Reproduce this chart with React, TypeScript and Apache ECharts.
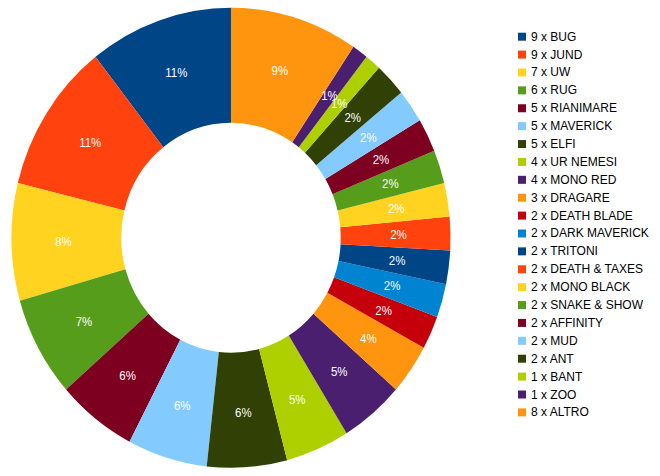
import React, { useEffect, useRef } from "react";
import * as echarts from "echarts";

const names = [
  "9 x BUG", "9 x JUND", "7 x UW", "6 x RUG", "5 x RIANIMARE", "5 x MAVERICK",
  "5 x ELFI", "4 x UR NEMESI", "4 x MONO RED", "3 x DRAGARE", "2 x DEATH BLADE",
  "2 x DARK MAVERICK", "2 x TRITONI", "2 x DEATH & TAXES", "2 x MONO BLACK",
  "2 x SNAKE & SHOW", "2 x AFFINITY", "2 x MUD", "2 x ANT", "1 x BANT", "1 x ZOO", "8 x ALTRO",
];
const values = [9, 9, 7, 6, 5, 5, 5, 4, 4, 3, 2, 2, 2, 2, 2, 2, 2, 2, 2, 1, 1, 8];
const palette = [
  "#004586", "#ff420e", "#ffd320", "#579d1c", "#7e0021", "#83caff",
  "#314004", "#aecf00", "#4b1f6f", "#ff950e", "#c5000b", "#0084d1",
];

const pieData = () => names.map((n, i) => ({ name: n, value: values[i] }));

export default function App() {
  const pieRef = useRef<HTMLDivElement>(null);
  const legRef = useRef<HTMLDivElement>(null);
  useEffect(() => {
    const pie = echarts.init(pieRef.current!, null, { renderer: "svg" });
    pie.setOption({
      animation: false,
      color: palette,
      series: [
        {
          type: "pie",
          center: [231, 237.8],
          radius: [115, 230],
          startAngle: 90,
          clockwise: false,
          avoidLabelOverlap: false,
          itemStyle: { borderWidth: 0 },
          labelLayout: { hideOverlap: false },
          label: {
            show: true,
            position: "inside",
            fontFamily: "Liberation Sans",
            fontSize: 12,
            color: "#fff",
            textShadowColor: "#000",
            textShadowOffsetX: 1,
            textShadowOffsetY: 1,
            textShadowBlur: 0,
            formatter: (p: any) => Math.round(p.percent) + "%",
          },
          labelLine: { show: false },
          emphasis: { disabled: true },
          data: pieData(),
        },
      ],
    });
    const leg = echarts.init(legRef.current!, null, { renderer: "svg" });
    leg.setOption({
      animation: false,
      color: palette,
      legend: {
        orient: "vertical",
        left: 518,
        top: 30.7,
        padding: 0,
        itemWidth: 8,
        itemHeight: 8,
        itemGap: 5.89,
        icon: "rect",
        selectedMode: false,
        textStyle: {
          fontFamily: "Liberation Sans",
          fontSize: 12,
          lineHeight: 12,
          color: "#000",
        },
        data: names,
      },
      series: [
        {
          type: "pie",
          center: [-100, -100],
          radius: [0, 0],
          label: { show: false },
          labelLine: { show: false },
          silent: true,
          data: pieData(),
        },
      ],
    });
    return () => {
      pie.dispose();
      leg.dispose();
    };
  }, []);
  return (
    <div style={{ position: "absolute", left: 0, top: 0, width: 660, height: 476 }}>
      <div
        ref={pieRef}
        style={{
          width: 660,
          height: 476,
          position: "absolute",
          left: 0,
          top: 0,
          transform: "scaleX(0.9545)",
          transformOrigin: "231px 0px",
        }}
      />
      <div ref={legRef} style={{ width: 660, height: 476, position: "absolute", left: 0, top: 0 }} />
    </div>
  );
}
